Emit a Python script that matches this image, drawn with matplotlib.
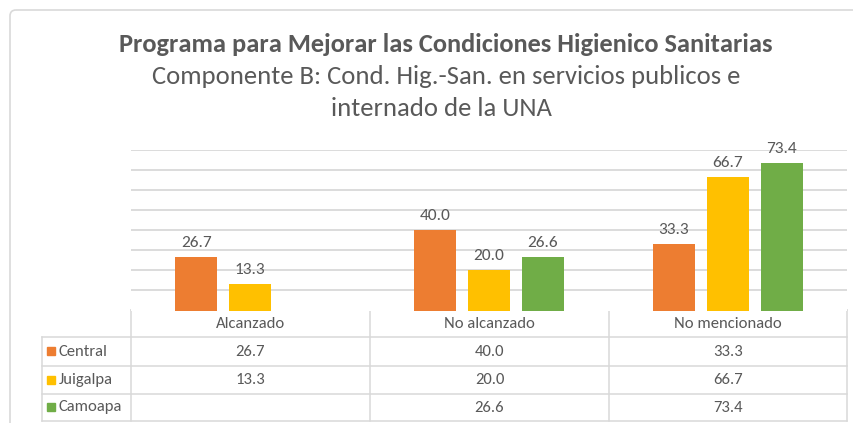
import numpy as np
import matplotlib
matplotlib.use("Agg")
import matplotlib.pyplot as plt
from matplotlib.patches import Rectangle, FancyBboxPatch
from matplotlib.lines import Line2D

categories = ["Alcanzado", "No alcanzado", "No mencionado"]
series_names = ["Central", "Juigalpa", "Camoapa"]
central = [26.7, 40.0, 33.3]
juigalpa = [13.3, 20.0, 66.7]
camoapa = [np.nan, 26.6, 73.4]
series_values = [central, juigalpa, camoapa]
colors = ["#ED7D31", "#FFC000", "#70AD47"]

title = "Programa para Mejorar las Condiciones Higienico Sanitarias"
subtitle_lines = ["Componente B: Cond. Hig.-San. en servicios publicos e",
                  "internado de la UNA"]

FONT = ["Carlito", "Liberation Sans Narrow", "Open Sans", "DejaVu Sans"]
plt.rcParams['font.family'] = FONT
TXT = "#595959"
GRID = "#D9D9D9"

W, H = 854, 423
fig = plt.figure(figsize=(W / 100, H / 100), dpi=100)

# overlay in pixel coordinates for frame and table
pix = fig.add_axes([0, 0, 1, 1])
pix.set_xlim(0, W)
pix.set_ylim(H, 0)
pix.axis("off")
pix.add_patch(FancyBboxPatch((10, 10), 900, 500, boxstyle="round,pad=0,rounding_size=6",
                             fill=False, ec=GRID, lw=1.2))

pix.text(446, 45, title, ha="center", va="center", fontsize=19, fontweight="bold", color=TXT)
for (sx, sy), line in zip([(446, 77), (441, 109)], subtitle_lines):
    pix.text(sx, sy, line, ha="center", va="center", fontsize=19.2, color=TXT)

# bar chart
x0, x1, ybot, ytop = 131, 847, 310.5, 150
ax = fig.add_axes([x0 / W, 1 - ybot / H, (x1 - x0) / W, (ybot - ytop) / H])
ax.set_xlim(-0.5, len(categories) - 0.5)
ax.set_ylim(0, 80)
for s in ax.spines.values():
    s.set_visible(False)
ax.set_xticks([])
ax.set_yticks([])
for g in range(10, 81, 10):
    ax.axhline(g, color=GRID, lw=1.3, zorder=0)

x = np.arange(len(categories))
width = 0.176
offsets = [-0.226, 0, 0.226]
for vals, off, c in zip(series_values, offsets, colors):
    bars = ax.bar(x + off, vals, width, color=c, zorder=2)
    for xi, v in zip(x + off, vals):
        if np.isnan(v):
            continue
        ax.annotate(f"{v:.1f}", (xi, v), xytext=(0, 5), textcoords="offset points",
                    ha="center", va="bottom", fontsize=12.5, color=TXT, annotation_clip=False)

# data table
col_edges = [131, 370, 609, 847]
row_edges = [310.5, 337, 366, 394, 421]
lab_left = 42
lw = 1.1
# horizontal lines
pix.add_line(Line2D([col_edges[0], col_edges[-1]], [row_edges[0]] * 2, color=GRID, lw=lw))
for yy in row_edges[1:]:
    pix.add_line(Line2D([lab_left, col_edges[-1]], [yy] * 2, color=GRID, lw=lw))
for xx in col_edges:
    pix.add_line(Line2D([xx, xx], [row_edges[0], row_edges[-1]], color=GRID, lw=lw))
pix.add_line(Line2D([lab_left, lab_left], [row_edges[1], row_edges[-1]], color=GRID, lw=lw))

for j, cat in enumerate(categories):
    cx = (col_edges[j] + col_edges[j + 1]) / 2
    pix.text(cx, (row_edges[0] + row_edges[1]) / 2, cat, ha="center", va="center",
             fontsize=12, color=TXT)

for i, (name, vals, c) in enumerate(zip(series_names, series_values, colors)):
    cy = (row_edges[i + 1] + row_edges[i + 2]) / 2
    pix.add_patch(Rectangle((47, cy - 4), 8, 8, color=c))
    pix.text(59, cy, name, ha="left", va="center", fontsize=12, color=TXT)
    for j, v in enumerate(vals):
        if np.isnan(v):
            continue
        cx = (col_edges[j] + col_edges[j + 1]) / 2
        pix.text(cx, cy, f"{v:.1f}", ha="center", va="center", fontsize=12, color=TXT)

plt.savefig("out.png", dpi=100)
